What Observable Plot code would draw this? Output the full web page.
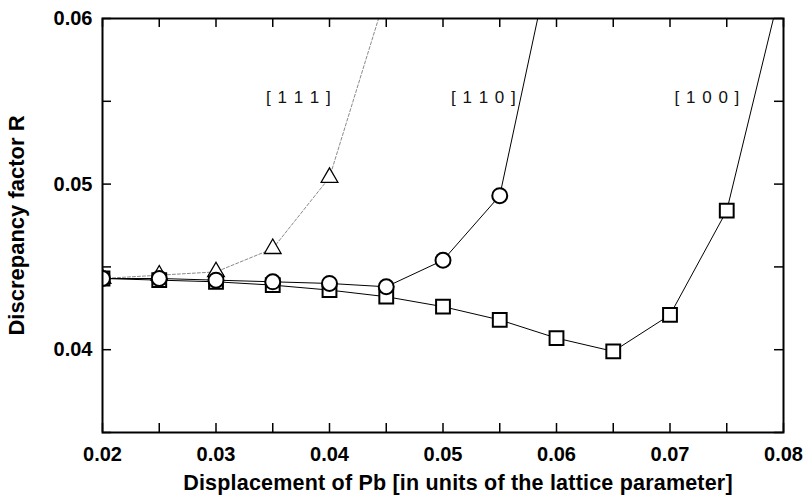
<!DOCTYPE html>
<html>
<head>
<meta charset="utf-8">
<script src="https://cdn.jsdelivr.net/npm/d3@7"></script>
<script src="https://cdn.jsdelivr.net/npm/@observablehq/plot@0.6"></script>
<style>
  html, body { margin: 0; padding: 0; background: #fff; }
  #chart svg { font-family: "Liberation Sans", Arial, sans-serif; }
</style>
</head>
<body>
<div id="chart"></div>
<script>
// Displacement of Pb (units of lattice parameter)
const disp100 = [0.02, 0.025, 0.03, 0.035, 0.04, 0.045, 0.05, 0.055, 0.06, 0.065, 0.07, 0.075, 0.08];
const r100    = [0.0443, 0.0442, 0.0441, 0.0439, 0.0436, 0.0432, 0.0426, 0.0418, 0.0407, 0.0399, 0.0421, 0.0484, 0.0625];

const disp110 = [0.02, 0.025, 0.03, 0.035, 0.04, 0.045, 0.05, 0.055, 0.06];
const r110    = [0.0443, 0.0443, 0.0442, 0.0441, 0.0440, 0.0438, 0.0454, 0.0493, 0.0653];

const disp111 = [0.02, 0.025, 0.03, 0.035, 0.04, 0.045];
const r111    = [0.0443, 0.0445, 0.0447, 0.0461, 0.0504, 0.0615];

const xTicks = [0.02, 0.025, 0.03, 0.035, 0.04, 0.045, 0.05, 0.055, 0.06, 0.065, 0.07, 0.075, 0.08];
const xLabels = [0.02, 0.03, 0.04, 0.05, 0.06, 0.07, 0.08];
const yTicks = [0.035, 0.04, 0.045, 0.05, 0.055, 0.06];
const yLabels = [0.04, 0.05, 0.06];

const seriesLabels = ["[ 1 1 1 ]", "[ 1 1 0 ]", "[ 1 0 0 ]"];
const labelX = [0.0373, 0.0536, 0.0733];
const labelY = [0.0552, 0.0552, 0.0552];

const s100 = disp100.map((x, i) => ({x, y: r100[i]}));
const s110 = disp110.map((x, i) => ({x, y: r110[i]}));
const s111 = disp111.map((x, i) => ({x, y: r111[i]}));
const labels = seriesLabels.map((t, i) => ({t, x: labelX[i], y: labelY[i]}));

const fmt = d3.format(".2f");

const W = 804, H = 496, ML = 102, MR = 21, MT = 18, MB = 64;
const innerW = W - ML - MR, innerH = H - MT - MB;
const tickLen = 9;

const chart = Plot.plot({
  width: W,
  height: H,
  marginLeft: ML,
  marginRight: MR,
  marginTop: MT,
  marginBottom: MB,
  x: {domain: [0.02, 0.08]},
  y: {domain: [0.035, 0.06]},
  style: {fontFamily: "Liberation Sans, Arial, sans-serif", color: "#000", background: "#fff"},
  marks: [
    // inward ticks on all four sides
    Plot.tickX(xTicks, {x: d => d, insetTop: innerH - tickLen, stroke: "#000", strokeWidth: 1.5}),
    Plot.tickX(xTicks, {x: d => d, insetBottom: innerH - tickLen, stroke: "#000", strokeWidth: 1.5}),
    Plot.tickY(yTicks, {y: d => d, insetRight: innerW - tickLen, stroke: "#000", strokeWidth: 1.5}),
    Plot.tickY(yTicks, {y: d => d, insetLeft: innerW - tickLen, stroke: "#000", strokeWidth: 1.5}),
    // tick labels
    Plot.axisX(xLabels, {anchor: "bottom", tickSize: 0, tickPadding: 14, tickFormat: fmt, fontSize: 20, fontWeight: "bold", label: null}),
    Plot.axisY(yLabels, {anchor: "left", tickSize: 0, tickPadding: 10, tickFormat: fmt, fontSize: 20, fontWeight: "bold", label: null}),
    // axis titles
    Plot.text(["Displacement of Pb [in units of the lattice parameter]"], {frameAnchor: "bottom", dy: 51, dx: 15, fontSize: 21.5, fontWeight: "bold", lineAnchor: "middle", textAnchor: "middle"}),
    Plot.text(["Discrepancy factor R"], {frameAnchor: "left", dx: -86, rotate: -90, fontSize: 22, fontWeight: "bold", lineAnchor: "middle", textAnchor: "middle"}),
    // lines
    Plot.line(s111, {x: "x", y: "y", stroke: "#8a8a8a", strokeWidth: 1, strokeDasharray: "3,2", clip: true}),
    Plot.line(s110, {x: "x", y: "y", stroke: "#000", strokeWidth: 1, clip: true}),
    Plot.line(s100, {x: "x", y: "y", stroke: "#000", strokeWidth: 1, clip: true}),
    // markers
    Plot.dot(s100, {x: "x", y: "y", symbol: "square", r: 7.8, stroke: "#000", strokeWidth: 2, fill: "#fff", clip: true}),
    Plot.dot(s111, {x: "x", y: "y", symbol: "triangle", r: 6.2, stroke: "#000", strokeWidth: 1.3, fill: "#fff", clip: true}),
    Plot.dot(s110, {x: "x", y: "y", symbol: "circle", r: 7.5, stroke: "#000", strokeWidth: 2, fill: "#fff", clip: true}),
    // series labels
    Plot.text(labels, {x: "x", y: "y", text: "t", fontSize: 17, fill: "#111"}),
    Plot.frame({stroke: "#000", strokeWidth: 2})
  ]
});
chart.querySelectorAll("text").forEach(t => {
  if (/^\[/.test(t.textContent)) t.setAttribute("letter-spacing", "1");
  if (/^Displacement/.test(t.textContent)) t.setAttribute("letter-spacing", "0.2");
});
document.getElementById("chart").appendChild(chart);
</script>
</body>
</html>
